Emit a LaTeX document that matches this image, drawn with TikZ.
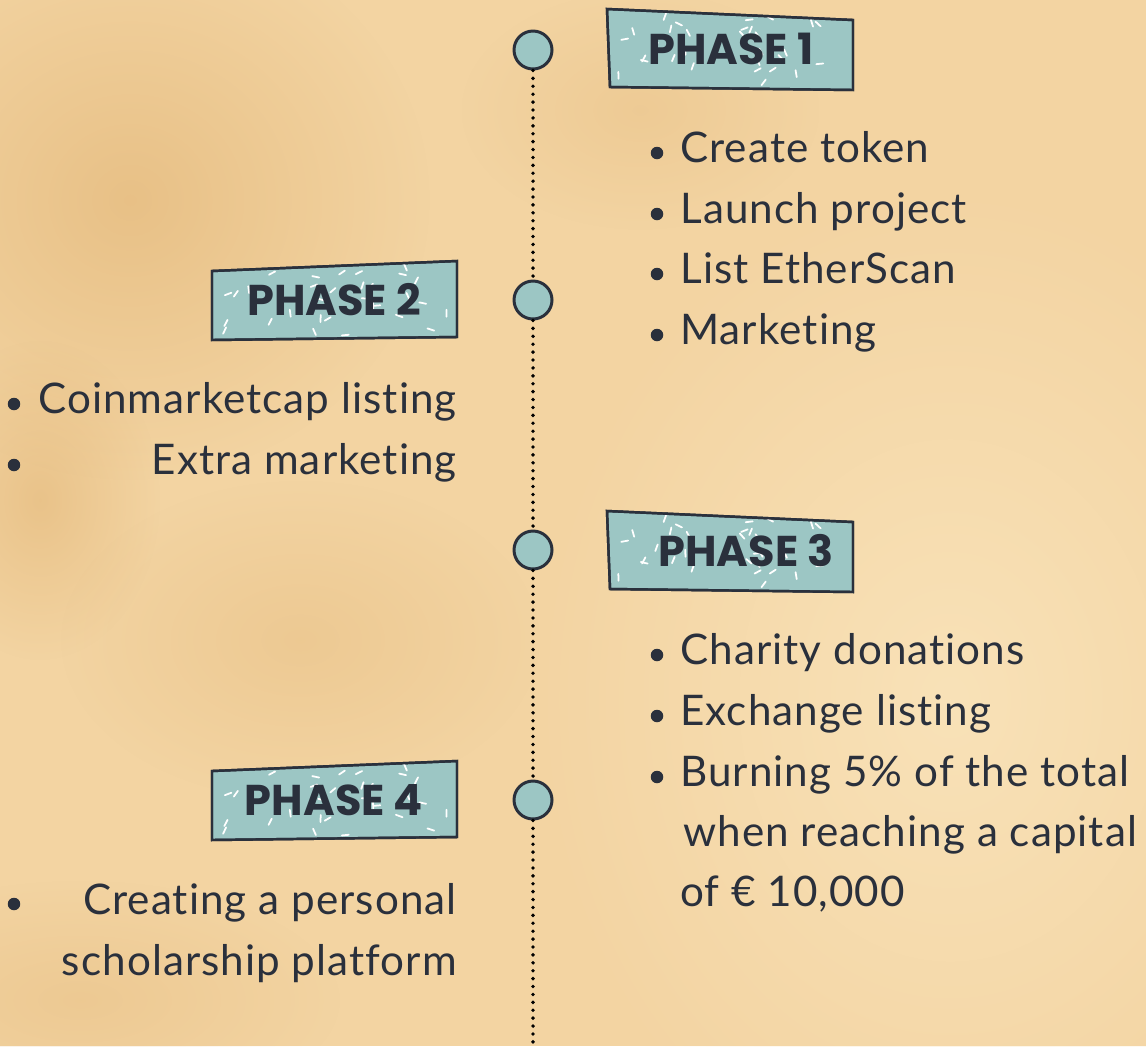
\documentclass[tikz,border=0pt]{standalone}
\usepackage{fontspec}
\usepackage{xcolor}
\usepackage{tikz}
\usetikzlibrary{positioning, fadings}

\newfontfamily\headfont{Poppins}[UprightFont=* Bold]
\newfontfamily\bodyfont{Lato}[LetterSpace=2.5, Ligatures=NoCommon]

\definecolor{paper}{HTML}{F3D4A2}
\definecolor{paperlight}{HTML}{F9E2B8}
\definecolor{stain}{HTML}{DBA965}
\definecolor{ink}{HTML}{2A303C}
\definecolor{sea}{HTML}{9CC6C4}

\tikzfading[name=blot, inner color=transparent!0, outer color=transparent!100]

% white dashes sprinkled over a tag, corner at (#1,#2)
\newcommand{\confetti}[2]{%
  \foreach \k in {1,...,32} {
    \pgfmathsetmacro{\cx}{#1+10+226*rnd}
    \pgfmathsetmacro{\cy}{#2+8+66*rnd}
    \pgfmathsetmacro{\ca}{360*rnd}
    \draw[white, line width=1pt, line cap=round]
      (\cx,\cy) -- ++(\ca:7);
  }}

\begin{document}
\begin{tikzpicture}[x=0.02cm, y=-0.02cm,
    milestone/.style={circle, draw=ink, fill=sea, line width=1.7pt,
      minimum size=0.76cm, inner sep=0pt},
    tag/.style={draw=ink, fill=sea, line width=1.4pt, line join=miter},
    head/.style={font=\headfont\fontsize{24.5}{28}\selectfont, text=ink, inner sep=0pt},
    item/.style={font=\bodyfont\fontsize{24}{34}\selectfont, text=ink, inner sep=0pt},
    bullet/.style={circle, fill=ink, minimum size=0.25cm, inner sep=0pt},
    trail/.style={black, line width=2.2pt, line cap=round, dash pattern=on 0pt off 4.5pt}]

  \useasboundingbox (0,0) rectangle (1146,1046);
  % paper
  \fill[paper] (0,0) rectangle (1146,1046);
  \fill[paperlight, path fading=blot] (950,700) ellipse (420 and 520);
  \fill[stain, opacity=0.45, path fading=blot] (130,200) ellipse (300 and 280);
  \fill[stain, opacity=0.40, path fading=blot] (40,500) ellipse (120 and 160);
  \fill[stain, opacity=0.25, path fading=blot] (300,640) ellipse (240 and 160);
  \fill[stain, opacity=0.25, path fading=blot] (80,1000) ellipse (260 and 120);
  \fill[stain, opacity=0.22, path fading=blot] (640,110) ellipse (180 and 120);

  % timeline
  \node[milestone] (m1) at (533,50) {};
  \node[milestone] (m2) at (533,300) {};
  \node[milestone] (m3) at (533,550) {};
  \node[milestone] (m4) at (533,800) {};
  \coordinate (end) at (533,1050);
  \draw[trail] (m1) -- (m2);
  \draw[trail] (m2) -- (m3);
  \draw[trail] (m3) -- (m4);
  \draw[trail] (m4) -- (end);

  % phase 1
  \pgfmathsetseed{11}
  \draw[tag] (607,9) -- (853,20) -- (853,90) -- (610,87) -- cycle;
  \begin{scope}
    \clip (607,9) -- (853,20) -- (853,90) -- (610,87) -- cycle;
    \confetti{607}{9}
  \end{scope}
  \draw[ink, line width=1.4pt] (607,9) -- (853,20) -- (853,90) -- (610,87) -- cycle;
  \node[head] (p1) at (731,49) {PHASE 1};

  \node[bullet] (b11) at (657,153) {};
  \node[item, anchor=base west] (t11) at (680,162) {Create token};
  \node[bullet] (b12) at (657,214) {};
  \node[item, anchor=base west] (t12) at (680,223) {Launch project};
  \node[bullet] (b13) at (657,274) {};
  \node[item, anchor=base west] (t13) at (680,283) {List EtherScan};
  \node[bullet] (b14) at (657,335) {};
  \node[item, anchor=base west] (t14) at (680,344) {Marketing};

  % phase 2
  \pgfmathsetseed{23}
  \draw[tag] (212,271) -- (457,261) -- (457,337) -- (212,340) -- cycle;
  \begin{scope}
    \clip (212,271) -- (457,261) -- (457,337) -- (212,340) -- cycle;
    \confetti{212}{262}
  \end{scope}
  \draw[ink, line width=1.4pt] (212,271) -- (457,261) -- (457,337) -- (212,340) -- cycle;
  \node[head] (p2) at (334,300) {PHASE 2};

  \node[bullet] (b21) at (14,404) {};
  \node[item, anchor=base east] (t21) at (457,413) {Coinmarketcap listing};
  \node[bullet] (b22) at (14,465) {};
  \node[item, anchor=base east] (t22) at (457,474) {Extra marketing};

  % phase 3
  \pgfmathsetseed{11}
  \draw[tag] (607,511) -- (853,522) -- (853,592) -- (610,589) -- cycle;
  \begin{scope}
    \clip (607,511) -- (853,522) -- (853,592) -- (610,589) -- cycle;
    \confetti{607}{511}
  \end{scope}
  \draw[ink, line width=1.4pt] (607,511) -- (853,522) -- (853,592) -- (610,589) -- cycle;
  \node[head] (p3) at (746,551) {PHASE 3};

  \node[bullet] (b31) at (657,655) {};
  \node[item, anchor=base west] (t31) at (680,664) {Charity donations};
  \node[bullet] (b32) at (657,716) {};
  \node[item, anchor=base west] (t32) at (680,725) {Exchange listing};
  \node[bullet] (b33) at (657,777) {};
  \node[item, anchor=base west] (t33) at (680,786) {Burning 5\% of the total};
  \node[item, anchor=base west] (t34) at (683,846) {when reaching a capital};
  \node[item, anchor=base west] (t35) at (680,906) {of € 10,000};

  % phase 4
  \pgfmathsetseed{23}
  \draw[tag] (212,771) -- (457,761) -- (457,837) -- (212,840) -- cycle;
  \begin{scope}
    \clip (212,771) -- (457,761) -- (457,837) -- (212,840) -- cycle;
    \confetti{212}{762}
  \end{scope}
  \draw[ink, line width=1.4pt] (212,771) -- (457,761) -- (457,837) -- (212,840) -- cycle;
  \node[head] (p4) at (334,800) {PHASE 4};

  \node[bullet] (b41) at (14,904) {};
  \node[item, anchor=base east] (t41) at (457,914) {Creating a personal};
  \node[item, anchor=base east] (t42) at (457,975) {scholarship platform};
\end{tikzpicture}
\end{document}
